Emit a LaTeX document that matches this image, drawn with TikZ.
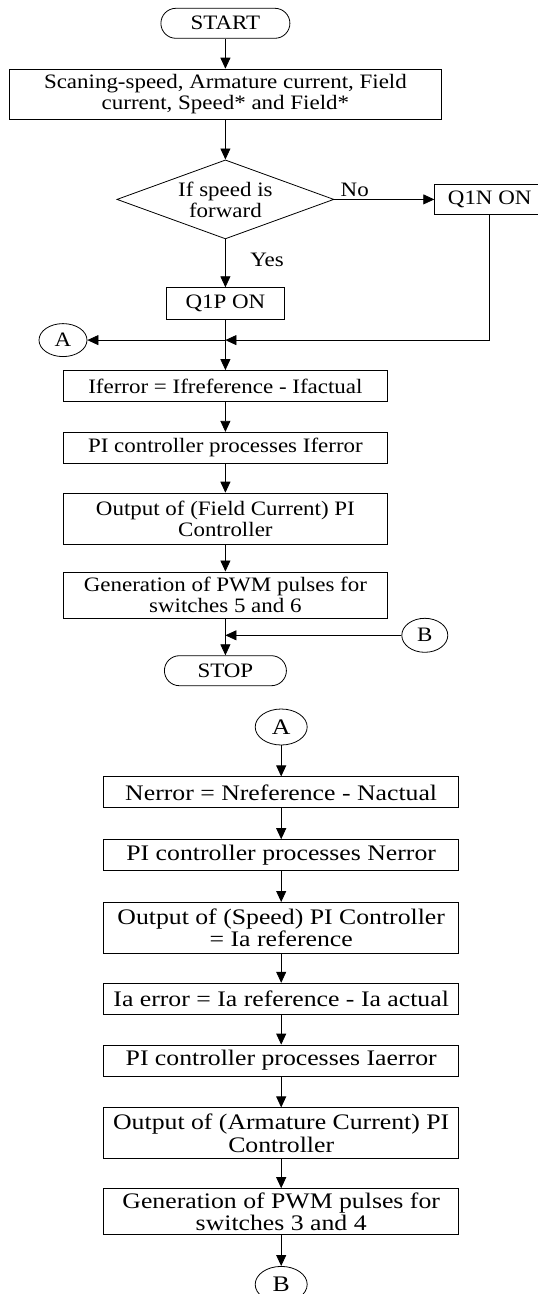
\documentclass[tikz,border=0pt]{standalone}
\usepackage{fontspec}
\setmainfont{Liberation Serif}
\newfontfamily\topfont[FakeStretch=1.12]{Liberation Serif}
\newfontfamily\botfont[FakeStretch=1.16]{Liberation Serif}
\usetikzlibrary{arrows.meta, positioning, shapes.geometric}

\begin{document}
\begin{tikzpicture}[x=1pt, y=-1pt, >={Triangle[length=11pt, width=10pt]}, line width=0.8pt,
    procbox/.style={draw, rectangle, minimum width=324pt, minimum height=31pt, inner sep=0pt,
      align=center, font=\topfont\fontsize{20.5}{21}\selectfont},
    bigbox/.style={draw, rectangle, minimum width=355pt, minimum height=31pt, inner sep=0pt,
      align=center, font=\botfont\fontsize{22.2}{22.3}\selectfont},
    endbox/.style={draw, rectangle, rounded corners=15pt, minimum height=30pt, inner sep=0pt,
      font=\topfont\fontsize{20.5}{21}\selectfont},
    decbox/.style={draw, diamond, aspect=2.75, minimum width=217pt, minimum height=79pt,
      inner sep=0pt, align=center, font=\topfont\fontsize{20.5}{21}\selectfont},
    connbox/.style={draw, ellipse, inner sep=0pt, font=\topfont\fontsize{20.5}{21}\selectfont},
    bigconn/.style={draw, ellipse, inner sep=0pt, minimum width=52pt, minimum height=36pt,
      font=\botfont\fontsize{22.2}{22.3}\selectfont},
    lbltxt/.style={inner sep=0pt, font=\topfont\fontsize{20.5}{21}\selectfont}]
  \useasboundingbox (0,0) rectangle (538,1294);

  % field current loop
  \node[endbox, minimum width=129pt] (start) at (225.4,23.3) {START};
  \node[procbox, minimum width=432pt, minimum height=50pt, below=30pt of start] (scan)
    {Scaning-speed, Armature current, Field\\current, Speed* and Field*};
  \node[decbox, below=40pt of scan] (fwd) {If speed is\\forward};
  \node[procbox, minimum width=110pt, minimum height=30pt, right=100pt of fwd] (qn) {Q1N ON};
  \node[procbox, minimum width=118pt, minimum height=32pt, below=48pt of fwd] (qp) {Q1P ON};
  \node[lbltxt, above right=2pt and 6pt of fwd.east] (no) {No};
  \node[lbltxt, below right=13pt and 24.5pt of fwd.south] (yes) {Yes};
  \coordinate[below=20pt of qp] (ja);
  \node[connbox, minimum width=48pt, minimum height=33pt, left=138pt of ja] (ca) {A};
  \node[procbox, below=50pt of qp] (iferr) {Iferror = Ifreference - Ifactual};
  \node[procbox, below=30pt of iferr] (pif) {PI controller processes Iferror};
  \node[procbox, minimum height=51pt, below=29pt of pif] (outf) {Output of (Field Current) PI\\Controller};
  \node[procbox, minimum height=46pt, below=27pt of outf] (gen56) {Generation of PWM pulses for\\switches 5 and 6};
  \coordinate[below=17pt of gen56] (jb);
  \node[connbox, minimum width=46pt, minimum height=34pt, right=176pt of jb] (cb) {B};
  \node[endbox, minimum width=122pt, below=37pt of gen56] (stop) {STOP};

  \draw[->] (start) -- (scan);
  \draw[->] (scan) -- (fwd);
  \draw[->] (fwd) -- (qn);
  \draw[->] (fwd) -- (qp);
  \draw[->] (qp) -- (iferr);
  \draw[->] (qn) |- (ja);
  \draw[->] (ja) -- (ca);
  \draw[->] (iferr) -- (pif);
  \draw[->] (pif) -- (outf);
  \draw[->] (outf) -- (gen56);
  \draw[->] (gen56) -- (stop);
  \draw[->] (cb) -- (jb);

  % speed and armature current loop
  \node[bigconn] (ca2) at (281.2,727) {A};
  \node[bigbox, below=31pt of ca2] (nerr) {Nerror = Nreference - Nactual};
  \node[bigbox, below=31pt of nerr] (pin) {PI controller processes Nerror};
  \node[bigbox, minimum height=51pt, below=31pt of pin] (outs) {Output of (Speed) PI Controller\\= Ia reference};
  \node[bigbox, below=29pt of outs] (iaerr) {Ia error = Ia reference - Ia actual};
  \node[bigbox, below=30pt of iaerr] (pia) {PI controller processes Iaerror};
  \node[bigbox, minimum height=51pt, below=31pt of pia] (outa) {Output of (Armature Current) PI\\Controller};
  \node[bigbox, minimum height=46pt, below=29pt of outa] (gen34) {Generation of PWM pulses for\\switches 3 and 4};
  \node[bigconn, below=31pt of gen34] (cb2) {B};

  \draw[->] (ca2) -- (nerr);
  \draw[->] (nerr) -- (pin);
  \draw[->] (pin) -- (outs);
  \draw[->] (outs) -- (iaerr);
  \draw[->] (iaerr) -- (pia);
  \draw[->] (pia) -- (outa);
  \draw[->] (outa) -- (gen34);
  \draw[->] (gen34) -- (cb2);
\end{tikzpicture}
\end{document}
